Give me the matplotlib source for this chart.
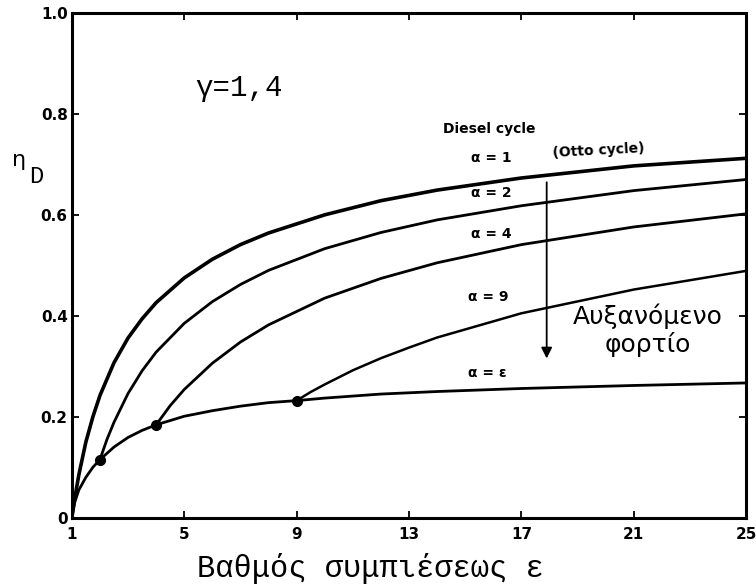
import numpy as np
import matplotlib.pyplot as plt

# values (compression ratio eps -> efficiency eta_D)
eps_a1 = [1, 1.1, 1.25, 1.5, 1.75, 2, 2.5, 3, 3.5, 4, 5, 6, 7, 8, 10, 12, 14, 17, 21, 25]
eta_a1 = [0.0, 0.037, 0.085, 0.15, 0.20, 0.242, 0.307, 0.356, 0.394, 0.426, 0.475, 0.512,
          0.541, 0.564, 0.600, 0.628, 0.649, 0.673, 0.697, 0.712]

eps_a2 = [2, 2.25, 2.5, 3, 3.5, 4, 5, 6, 7, 8, 10, 12, 14, 17, 21, 25]
eta_a2 = [0.115, 0.155, 0.189, 0.246, 0.291, 0.328, 0.385, 0.428, 0.462, 0.49, 0.533, 0.565,
          0.590, 0.618, 0.648, 0.670]

eps_a4 = [4, 4.5, 5, 6, 7, 8, 10, 12, 14, 17, 21, 25]
eta_a4 = [0.184, 0.222, 0.254, 0.306, 0.348, 0.382, 0.435, 0.474, 0.505, 0.541, 0.576, 0.602]

eps_a9 = [9, 9.5, 10, 11, 12, 13, 14, 17, 21, 25]
eta_a9 = [0.232, 0.249, 0.264, 0.292, 0.316, 0.337, 0.357, 0.405, 0.452, 0.489]

eps_ae = [1, 1.1, 1.25, 1.5, 1.75, 2, 2.5, 3, 3.5, 4, 5, 6, 7, 8, 9, 10, 12, 14, 17, 21, 25]
eta_ae = [0.0, 0.03, 0.055, 0.08, 0.10, 0.115, 0.14, 0.159, 0.173, 0.184, 0.201, 0.212,
          0.221, 0.228, 0.232, 0.237, 0.245, 0.250, 0.256, 0.262, 0.267]

dot_eps = [2, 4, 9]
dot_eta = [0.115, 0.184, 0.232]

xticks = [1, 5, 9, 13, 17, 21, 25]
yticks = [0, 0.2, 0.4, 0.6, 0.8, 1.0]
ytick_labels = ['0', '0.2', '0.4', '0.6', '0.8', '1.0']

fig = plt.figure(figsize=(7.56, 5.87), dpi=100)
ax = fig.add_axes([0.095, 0.118, 0.892, 0.86])

ax.plot(eps_a1, eta_a1, color='black', lw=2.6)
ax.plot(eps_a2, eta_a2, color='black', lw=2.0)
ax.plot(eps_a4, eta_a4, color='black', lw=2.0)
ax.plot(eps_a9, eta_a9, color='black', lw=1.8)
ax.plot(eps_ae, eta_ae, color='black', lw=2.0)
ax.plot(dot_eps, dot_eta, 'o', color='black', ms=7)

ax.set_xlim(1, 25)
ax.set_ylim(0, 1.0)
ax.set_xticks(xticks)
ax.set_yticks(yticks)
ax.set_yticklabels(ytick_labels)
ax.tick_params(direction='in', top=True, right=True, length=5, width=1.3, labelsize=11)
ax.tick_params(axis='x', pad=7)
ax.tick_params(axis='y', pad=3)
for lab in ax.get_xticklabels() + ax.get_yticklabels():
    lab.set_fontweight('bold')
    lab.set_family('DejaVu Sans')
for s in ax.spines.values():
    s.set_linewidth(2.2)

fig.text(370 / 756, 1 - 568 / 587, 'Βαθμός συμπιέσεως ε', family='Liberation Mono',
         fontsize=22, ha='center', va='center')

fig.text(12 / 756, 1 - 166 / 587, 'η', fontsize=16, family='DejaVu Sans', va='baseline')
fig.text(29 / 756, 1 - 183 / 587, 'D', fontsize=17, family='Liberation Mono', va='baseline')

ax.text(5.4, 0.852, 'γ=1,4', family='Liberation Mono', fontsize=21, va='center')

small = dict(family='DejaVu Sans', fontweight='bold', fontsize=10, va='center')
ax.text(14.2, 0.77, 'Diesel cycle', **small)
ax.text(15.2, 0.713, 'α = 1', **small)
ax.text(18.1, 0.728, '(Otto cycle)', rotation=3, **small)
ax.text(15.2, 0.644, 'α = 2', **small)
ax.text(15.2, 0.562, 'α = 4', **small)
ax.text(15.1, 0.437, 'α = 9', **small)
ax.text(15.1, 0.287, 'α = ε', **small)

ax.annotate('', xy=(17.9, 0.31), xytext=(17.9, 0.67),
            arrowprops=dict(arrowstyle='-|>', color='black', lw=1.3, mutation_scale=16))
ax.text(21.5, 0.40, 'Αυξανόμενο', family='DejaVu Sans', fontsize=18, ha='center', va='center')
ax.text(21.5, 0.343, 'φορτίο', family='DejaVu Sans', fontsize=18, ha='center', va='center')

fig.savefig('out.png', dpi=100)
